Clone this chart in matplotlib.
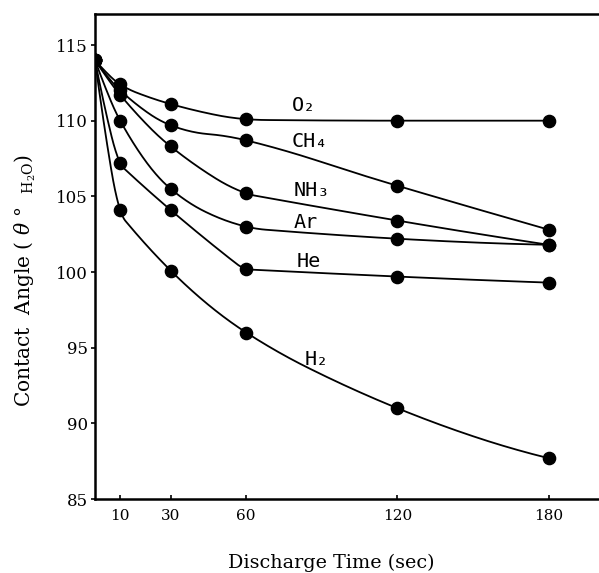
"""
Contact angle vs. discharge time for different plasma gases
"""
import numpy as np
import matplotlib
matplotlib.use('Agg')
import matplotlib.pyplot as plt

plt.rcParams['font.family'] = ['DejaVu Serif']
plt.rcParams['mathtext.fontset'] = 'dejavuserif'

# ── data ───────────────────────────────────────────────────
time_s = [0, 10, 30, 60, 120, 180]
o2  = [114.0, 112.4, 111.1, 110.1, 110.0, 110.0]
ch4 = [114.0, 112.0, 109.7, 108.7, 105.7, 102.8]
nh3 = [114.0, 111.7, 108.3, 105.2, 103.4, 101.8]
ar  = [114.0, 110.0, 105.5, 103.0, 102.2, 101.8]
he  = [114.0, 107.2, 104.1, 100.2,  99.7,  99.3]
h2  = [114.0, 104.1, 100.1,  96.0,  91.0,  87.7]

series = [o2, ch4, nh3, ar, he, h2]
gas_labels = ['O₂', 'CH₄', 'NH₃', 'Ar', 'He', 'H₂']
label_pos = [(78.0, 111.0), (78.0, 108.6), (79.0, 105.4),
             (79.0, 103.3), (80.0, 100.7), (83.0, 94.2)]

x_ticks = [10, 30, 60, 120, 180]
y_ticks = [85, 90, 95, 100, 105, 110, 115]


def smooth(xs, ys, n=40):
    """shape-preserving C1 quadratic spline (Schumaker style) through the points"""
    x = np.asarray(xs, float)
    y = np.asarray(ys, float)
    h = np.diff(x)
    d = np.diff(y) / h
    k = len(x)
    m = np.zeros(k)
    for i in range(1, k - 1):
        if d[i - 1] * d[i] > 0:
            bessel = (h[i] * d[i - 1] + h[i - 1] * d[i]) / (h[i - 1] + h[i])
            harm = (h[i - 1] + h[i]) / (h[i - 1] / d[i - 1] + h[i] / d[i])
            m[i] = 0.5 * (bessel + harm)
    s0 = ((2 * h[0] + h[1]) * d[0] - h[0] * d[1]) / (h[0] + h[1])
    m[0] = s0 if s0 * d[0] > 0 else 0.0
    s1 = ((2 * h[-1] + h[-2]) * d[-1] - h[-1] * d[-2]) / (h[-1] + h[-2])
    m[-1] = s1 if s1 * d[-1] > 0 else 0.0

    px, py = [], []
    for i in range(k - 1):
        m0, m1, dd, hh = m[i], m[i + 1], d[i], h[i]
        if abs(m1 - m0) > 1e-12 and (m1 - dd) * (dd - m0) >= 0:
            a = hh * (m1 - dd) / (m1 - m0)
            mb = dd
        else:
            a = hh / 2
            mb = 2 * dd - (m0 + m1) / 2
        a = min(max(a, 1e-6), hh - 1e-6)
        b = hh - a
        t = np.linspace(0, a, n)
        px.append(x[i] + t)
        py.append(y[i] + m0 * t + (mb - m0) * t**2 / (2 * a))
        yk = y[i] + (m0 + mb) / 2 * a
        t = np.linspace(0, b, n)
        px.append(x[i] + a + t)
        py.append(yk + mb * t + (m1 - mb) * t**2 / (2 * b))
    return np.concatenate(px), np.concatenate(py)


fig = plt.figure(figsize=(5.99, 5.73), dpi=100)
ax = fig.add_axes([0.1586, 0.1291, 0.8414, 0.8465])

for ys, lbl, (lx, ly) in zip(series, gas_labels, label_pos):
    xx, yy = smooth(time_s, ys)
    ax.plot(xx, yy, color='black', lw=1.3)
    ax.plot(time_s, ys, 'o', color='black', ms=8.8)
    ax.text(lx, ly, lbl, fontsize=14.5, family='DejaVu Sans Mono',
            ha='left', va='center')

ax.set_xlim(0, 200)
ax.set_ylim(85, 117.05)
ax.set_xticks(x_ticks)
ax.set_yticks(y_ticks)
ax.tick_params(axis='x', direction='in', length=3, width=1.2, labelsize=11, pad=7)
ax.tick_params(axis='y', direction='out', length=3, width=1.2, labelsize=12, pad=2)

ax.spines['right'].set_visible(False)
for s in ['left', 'bottom', 'top']:
    ax.spines[s].set_linewidth(1.8)

ax.set_xlabel('Discharge Time (sec)', fontsize=13.8)
ax.xaxis.set_label_coords(0.468, -0.113)
ax.set_ylabel(r'Contact  Angle ( $\theta$ °  $_{\mathrm{H_2O}}$)', fontsize=14.5)
ax.yaxis.set_label_coords(-0.113, 0.45)

plt.savefig('out.png', dpi=100, facecolor='white')
plt.close()
